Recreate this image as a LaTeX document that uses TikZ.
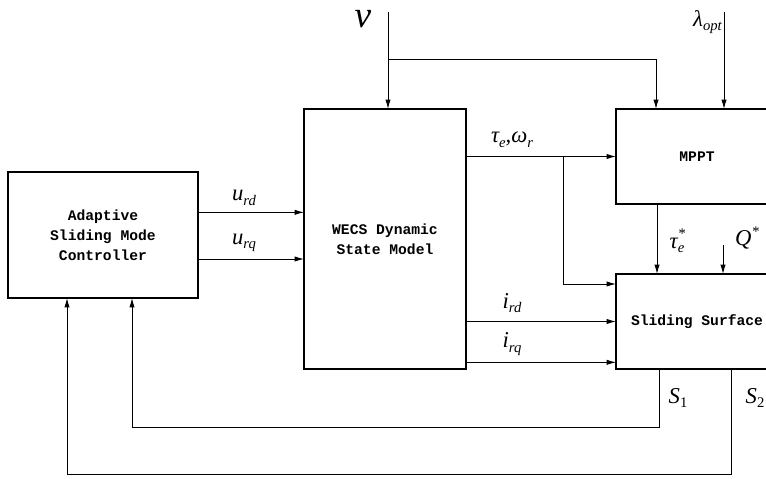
\documentclass[tikz,border=0pt]{standalone}
\usepackage{fontspec}
\setmonofont{Liberation Mono}
\newfontfamily\lblfont{Liberation Serif}
\usepackage{tikz}
\usetikzlibrary{arrows.meta}
\newcommand{\lowsub}[1]{\raisebox{-0.45ex}{\fontsize{11}{12}\selectfont #1}}
\newcommand{\highsup}[1]{\raisebox{0.9ex}{\fontsize{11}{12}\selectfont #1}}

\begin{document}
\begin{tikzpicture}[x=0.75pt, y=-0.75pt,
		blk/.style={draw, line width=1.4pt, align=center, inner sep=0pt, outer sep=0pt,
			font=\ttfamily\bfseries\fontsize{11}{15}\selectfont},
		sig/.style={line width=0.7pt, -{Latex[length=7pt,width=4pt]}},
		lbl/.style={inner sep=0pt, font=\lblfont\itshape\fontsize{17}{19}\selectfont}]
	\useasboundingbox (0,0) rectangle (766,478);

	\node (ctrl) [blk, minimum width=142.5pt, minimum height=94.5pt] at (103,235) {Adaptive\\Sliding Mode\\Controller};
	\node (wecs) [blk, minimum width=121.5pt, minimum height=195pt] at (385,239) {WECS Dynamic\\State Model};
	\node (mppt) [blk, minimum width=121.5pt, minimum height=71.25pt] at (697,156.5) {MPPT};
	\node (surf) [blk, minimum width=121.5pt, minimum height=71.25pt] at (697,321.5) {Sliding Surface};

	\coordinate (vin) at (388,12);
	\coordinate (vsplit) at (388,59);
	\coordinate (vmppt) at (656,59);
	\coordinate (lamin) at (724,12);
	\coordinate (twsplit) at (563,157);
	\coordinate (qin) at (723,245);

	\draw[sig] (vin) -- (vin |- wecs.north);
	\draw[sig] (vsplit) -- (vmppt) -- (vmppt |- mppt.north);
	\draw[sig] (lamin) -- (lamin |- mppt.north);

	\draw[sig] ([yshift=17pt]ctrl.east) -- ([yshift=17pt]ctrl.east -| wecs.west);
	\draw[sig] ([yshift=-18pt]ctrl.east) -- ([yshift=-18pt]ctrl.east -| wecs.west);

	\draw[sig] (wecs.east |- mppt.west) -- (mppt.west);
	\draw[sig] (twsplit) |- ([yshift=-7.5pt]surf.north west);
	\draw[sig] (wecs.east |- surf.west) -- (surf.west);
	\draw[sig] ([yshift=5pt]surf.south west -| wecs.east) -- ([yshift=5pt]surf.south west);

	\draw[sig] ([xshift=-30pt]mppt.south) -- ([xshift=-30pt]surf.north);
	\draw[sig] (qin) -- (qin |- surf.north);

	\draw[sig] ([xshift=-28.5pt]surf.south) -- ++(0,58) -| ([xshift=21.75pt]ctrl.south);
	\draw[sig] ([xshift=25.5pt]surf.south) -- ++(0,105) -| ([xshift=-27pt]ctrl.south);

	\node (lv) [lbl, font=\lblfont\itshape\fontsize{28}{30}\selectfont] at (363,19) {v};
	\node (llam) [lbl, anchor=east] at (722,22) {λ\lowsub{opt}};
	\node (ltw) [lbl] at (512,140) {τ\lowsub{e},ω\lowsub{r}};
	\node (lurd) [lbl] at (244,198) {u\lowsub{rd}};
	\node (lurq) [lbl] at (244,243) {u\lowsub{rq}};
	\node (lird) [lbl] at (512,303) {i\lowsub{rd}};
	\node (lirq) [lbl] at (512,344) {i\lowsub{rq}};
	\node (ltau) [lbl] at (677,241) {τ\rlap{\highsup{*}}\lowsub{e}};
	\node (lq) [lbl] at (747,238) {Q\highsup{*}};
	\node (ls1) [lbl] at (678,398) {S\lowsub{\upshape 1}};
	\node (ls2) [lbl] at (755,398) {S\lowsub{\upshape 2}};
\end{tikzpicture}
\end{document}
